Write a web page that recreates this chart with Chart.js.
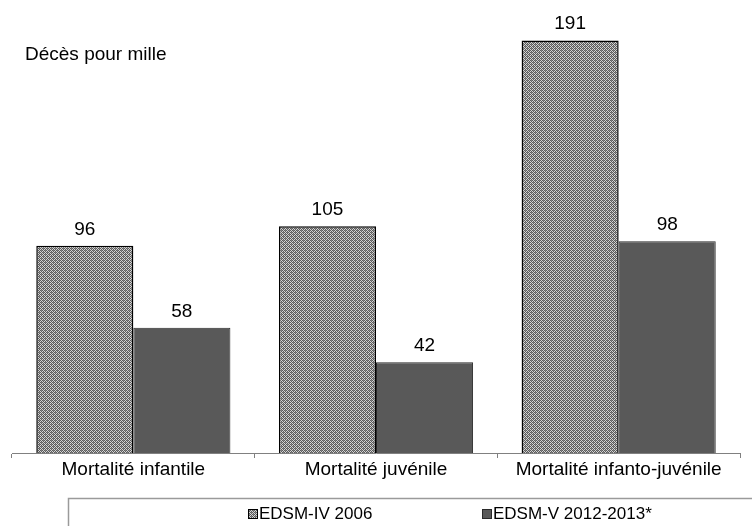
<!DOCTYPE html>
<html>
<head>
<meta charset="utf-8">
<script src="https://cdn.jsdelivr.net/npm/chart.js@4/dist/chart.umd.min.js"></script>
<style>
  html, body { margin: 0; padding: 0; background: #ffffff; }
  #wrap { width: 752px; height: 526px; }
</style>
</head>
<body>
<div id="wrap"><canvas id="c" width="752" height="526"></canvas></div>
<script>
// Mortality indicators (deaths per thousand) by survey
const categories = ['Mortalité infantile', 'Mortalité juvénile', 'Mortalité infanto-juvénile'];
const seriesNames = ['EDSM-IV 2006', 'EDSM-V 2012-2013*'];
const edsm2006 = [96, 105, 191];
const edsm2012 = [58, 42, 98];
const unitLabel = 'Décès pour mille';

const FONT = '"Liberation Sans", Arial, sans-serif';

// Fine stippled fill for the 2006 series
function makeStipple() {
  const t = document.createElement('canvas');
  t.width = 4; t.height = 4;
  const g = t.getContext('2d');
  g.fillStyle = '#d4d4d4';
  g.fillRect(0, 0, 4, 4);
  g.fillStyle = '#5a5a5a';
  const mask = [[0,0],[2,0],[1,1],[3,1],[0,2],[2,2],[1,3],[3,3]];
  for (const [x, y] of mask) g.fillRect(x, y, 1, 1);
  g.fillStyle = '#868686';
  g.fillRect(1, 2, 1, 1);
  g.fillRect(3, 0, 1, 1);
  return g.createPattern(t, 'repeat');
}

const ctx = document.getElementById('c').getContext('2d');
const stipple = makeStipple();

// Value labels above each bar
const valueLabels = {
  id: 'valueLabels',
  afterDatasetsDraw(chart) {
    const c = chart.ctx;
    c.save();
    c.font = '19px ' + FONT;
    c.fillStyle = '#000';
    c.textAlign = 'center';
    c.textBaseline = 'alphabetic';
    chart.data.datasets.forEach((ds, i) => {
      chart.getDatasetMeta(i).data.forEach((bar, j) => {
        c.fillText(String(ds.data[j]), bar.x, bar.y - 11);
      });
    });
    c.restore();
  }
};

// Unit caption in the upper left
const unitCaption = {
  id: 'unitCaption',
  afterDraw(chart) {
    const c = chart.ctx;
    c.save();
    c.font = '19px ' + FONT;
    c.fillStyle = '#000';
    c.textAlign = 'left';
    c.textBaseline = 'middle';
    c.fillText(unitLabel, 25, 55);
    c.restore();
  }
};

// Boxed legend along the bottom
const boxedLegend = {
  id: 'boxedLegend',
  afterDraw(chart) {
    const c = chart.ctx;
    c.save();
    c.strokeStyle = '#9a9a9a';
    c.lineWidth = 1.5;
    c.strokeRect(68.5, 498.5, 700, 60);
    const items = [
      { x: 248, ds: chart.data.datasets[0] },
      { x: 482, ds: chart.data.datasets[1] }
    ];
    c.font = '17px ' + FONT;
    c.textBaseline = 'middle';
    c.textAlign = 'left';
    const cy = 514;
    items.forEach(it => {
      c.fillStyle = it.ds.backgroundColor;
      c.fillRect(it.x, cy - 5, 10, 10);
      c.strokeStyle = it.ds.borderColor;
      c.lineWidth = 1;
      c.strokeRect(it.x + 0.5, cy - 4.5, 9, 9);
      c.fillStyle = '#000';
      c.fillText(it.ds.label, it.x + 11, cy);
    });
    c.restore();
  }
};

new Chart(ctx, {
  type: 'bar',
  data: {
    labels: categories,
    datasets: [
      {
        label: seriesNames[0],
        data: edsm2006,
        backgroundColor: stipple,
        borderColor: '#000000',
        borderWidth: 1.5,
        borderSkipped: 'bottom'
      },
      {
        label: seriesNames[1],
        data: edsm2012,
        backgroundColor: '#595959',
        borderColor: '#2a2a2a',
        borderWidth: 1,
        borderSkipped: 'bottom'
      }
    ]
  },
  options: {
    responsive: false,
    animation: false,
    devicePixelRatio: 1,
    layout: { padding: { left: 12, right: 12, top: 21, bottom: 0 } },
    plugins: {
      legend: { display: false },
      tooltip: { enabled: false },
      title: { display: false }
    },
    datasets: {
      bar: { categoryPercentage: 0.8, barPercentage: 1.0 }
    },
    scales: {
      x: {
        grid: {
          display: true,
          offset: true,
          drawOnChartArea: false,
          drawTicks: true,
          tickLength: 5,
          color: '#808080'
        },
        border: { display: true, color: '#808080', width: 1 },
        ticks: {
          color: '#000',
          font: { family: FONT, size: 19 },
          padding: 0,
          maxRotation: 0
        },
        afterFit(scale) { scale.height = 73; }
      },
      y: {
        display: false,
        min: 0,
        max: 200
      }
    }
  },
  plugins: [valueLabels, unitCaption, boxedLegend]
});
</script>
</body>
</html>
